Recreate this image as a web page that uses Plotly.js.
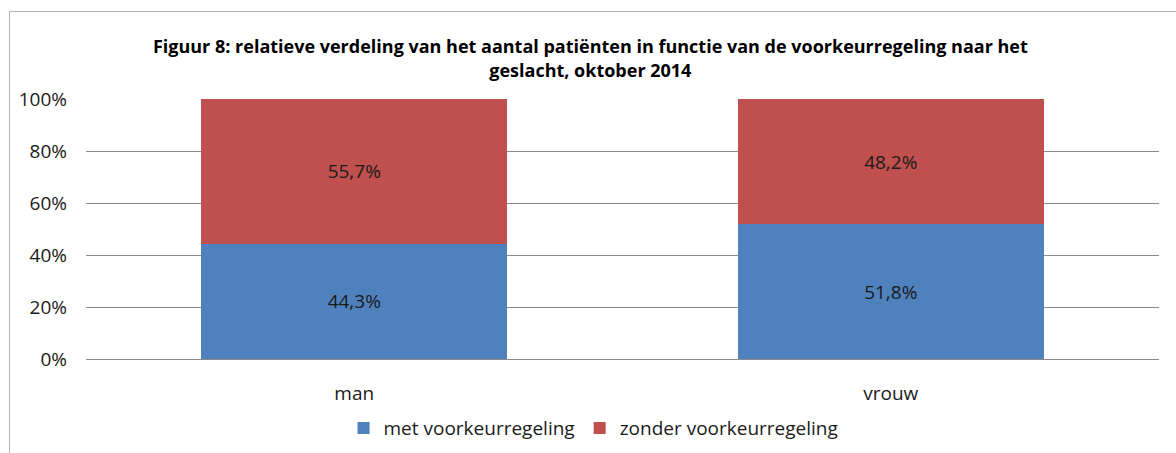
<!DOCTYPE html>
<html>
<head>
<meta charset="utf-8">
<script src="https://cdn.plot.ly/plotly-3.0.1.min.js"></script>
<style>
  body { margin: 0; background: #fff; }
  #frame { position: absolute; left: 9px; top: 11px; width: 1200px; height: 460px;
           border-left: 1px solid #b4b4b4; border-top: 1px solid #b4b4b4; }
  #myDiv { position: absolute; left: 0; top: 0; width: 1176px; height: 453px; }
</style>
</head>
<body>
<div id="frame"></div>
<div id="myDiv"></div>
<script>
var categories = ['man', 'vrouw'];
var metVoorkeur = [44.3, 51.8];
var zonderVoorkeur = [55.7, 48.2];
var tickVals = [0, 20, 40, 60, 80, 100];
var tickText = ['0%', '20%', '40%', '60%', '80%', '100%'];

var labelFont = { family: 'Open Sans, sans-serif', size: 19, color: '#1a1a1a' };

var trace1 = {
  x: categories,
  y: metVoorkeur,
  type: 'bar',
  name: 'met voorkeurregeling',
  marker: { color: '#4F81BD' },
  texttemplate: '%{y:.1f}%',
  textposition: 'inside',
  insidetextanchor: 'middle',
  textfont: labelFont,
  hoverinfo: 'none'
};

var trace2 = {
  x: categories,
  y: zonderVoorkeur,
  type: 'bar',
  name: 'zonder voorkeurregeling',
  marker: { color: '#C0504D' },
  texttemplate: '%{y:.1f}%',
  textposition: 'inside',
  insidetextanchor: 'middle',
  textfont: labelFont,
  hoverinfo: 'none'
};

var data = [trace1, trace2];

var layout = {
  width: 1176,
  height: 453,
  barmode: 'stack',
  bargap: 0.43,
  separators: ',.',
  paper_bgcolor: 'rgba(0,0,0,0)',
  plot_bgcolor: 'rgba(0,0,0,0)',
  margin: { l: 86, r: 17, t: 99, b: 94, autoexpand: false },
  title: {
    text: 'Figuur 8: relatieve verdeling van het aantal patiënten in functie van de voorkeurregeling naar het<br>geslacht, oktober 2014',
    font: { family: 'Open Sans, sans-serif', size: 18, color: '#000', weight: 'bold' },
    x: 0.502,
    xanchor: 'center',
    y: 0.882,
    yanchor: 'middle'
  },
  xaxis: {
    automargin: false,
    showline: false,
    ticks: '',
    tickfont: { family: 'Open Sans, sans-serif', size: 19, color: '#1a1a1a' },
    ticklabelstandoff: 21
  },
  yaxis: {
    automargin: false,
    range: [0, 100],
    tickvals: tickVals,
    ticktext: tickText,
    showgrid: true,
    gridcolor: '#8c8c8c',
    gridwidth: 1,
    zeroline: true,
    zerolinecolor: '#8c8c8c',
    zerolinewidth: 1,
    ticks: '',
    ticklabelstandoff: 18,
    tickfont: { family: 'Open Sans, sans-serif', size: 19, color: '#1a1a1a' }
  },
  showlegend: true,
  legend: {
    orientation: 'h',
    x: 0.473,
    xanchor: 'center',
    yref: 'container',
    y: 0.055,
    yanchor: 'middle',
    font: { family: 'Open Sans, sans-serif', size: 19, color: '#1a1a1a' },
    traceorder: 'normal',
    itemwidth: 30
  }
};

Plotly.newPlot('myDiv', data, layout, { displayModeBar: false, staticPlot: true });
</script>
</body>
</html>
